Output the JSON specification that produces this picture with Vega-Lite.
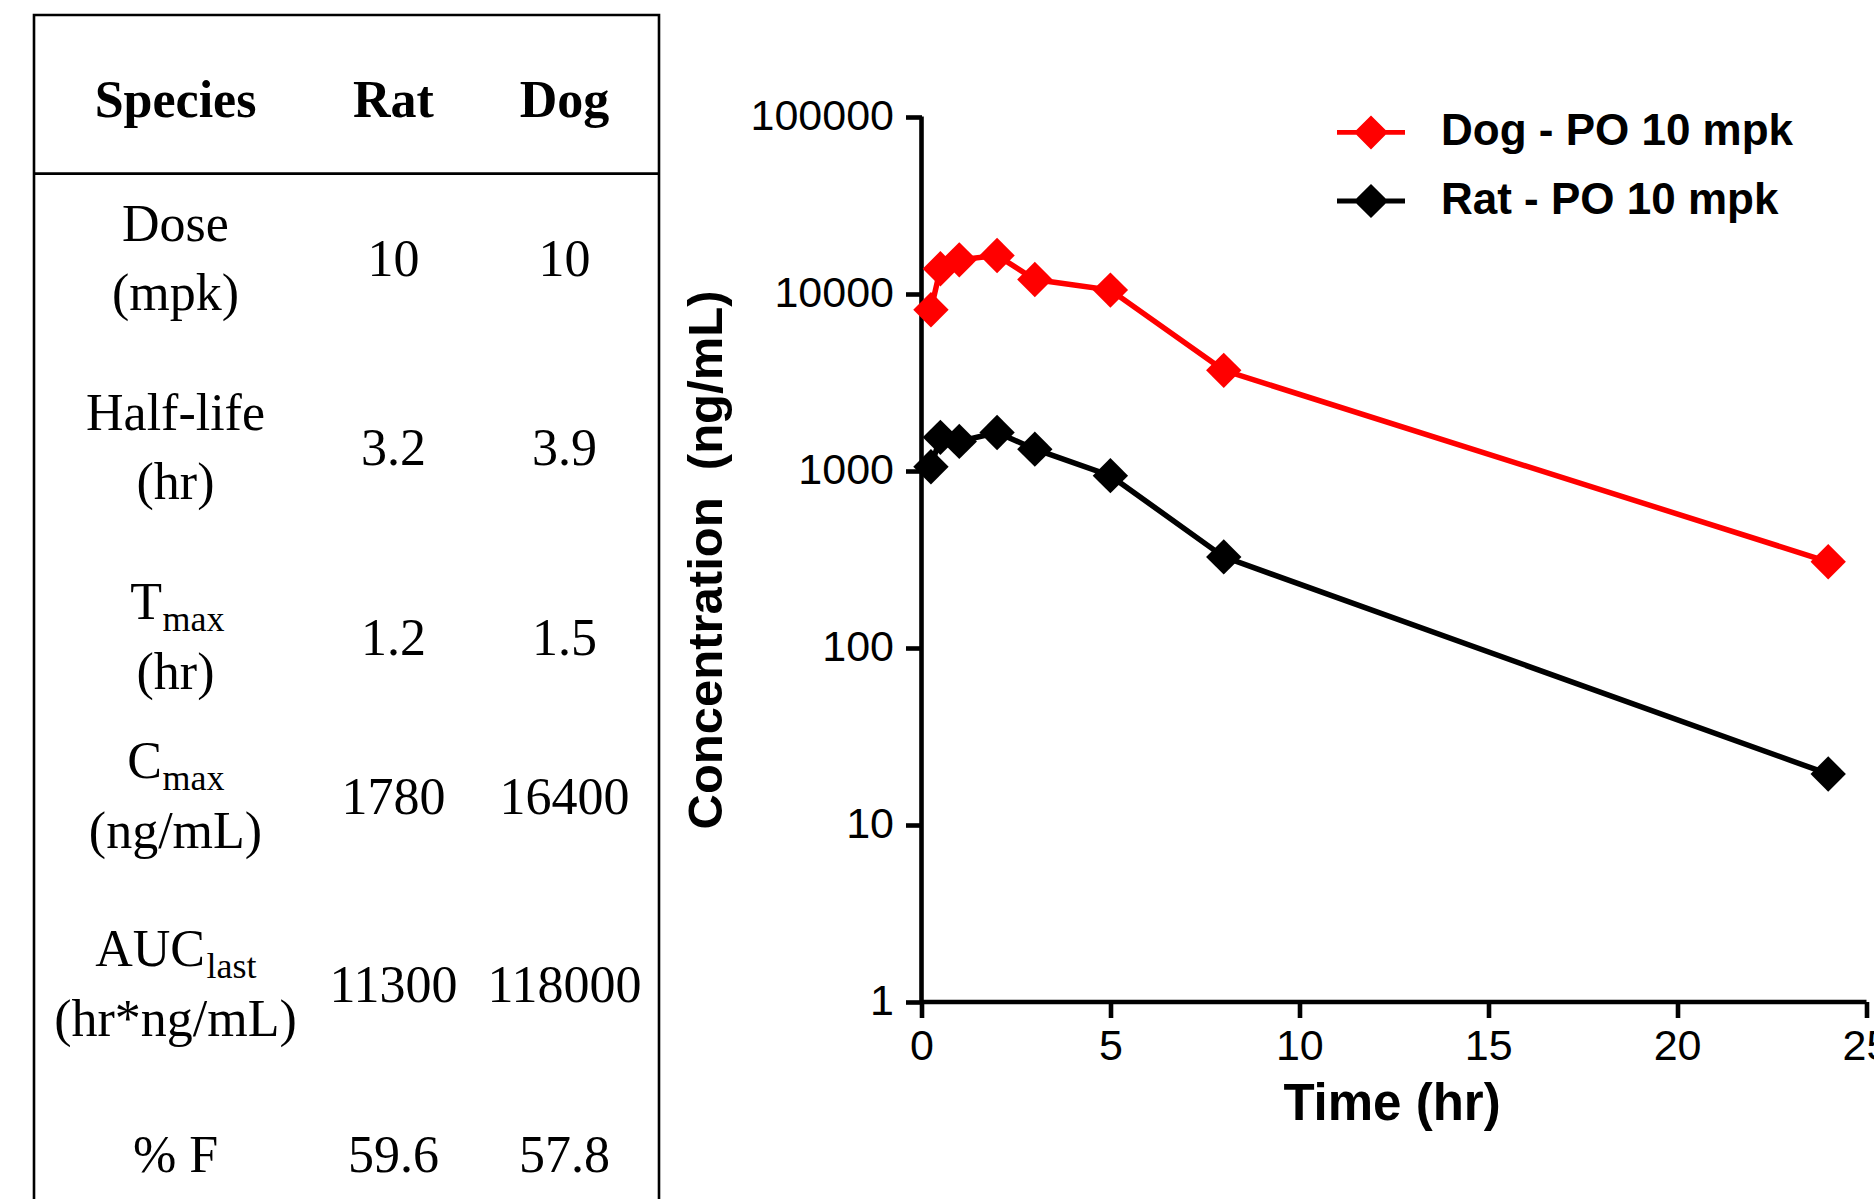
{
  "$schema": "https://vega.github.io/schema/vega-lite/v6.json",
  "background": "white",
  "padding": {"left": 31, "top": 13, "right": 0, "bottom": 0},
  "autosize": {"type": "pad"},
  "config": {"view": {"stroke": null}, "axis": {"grid": false}},
  "datasets": {
    "header": [
      {"row": 0, "col": 0, "text": "Species"},
      {"row": 0, "col": 1, "text": "Rat"},
      {"row": 0, "col": 2, "text": "Dog"}
    ],
    "cells": [
      {"row": 1, "col": 1, "text": "10"}, {"row": 1, "col": 2, "text": "10"},
      {"row": 2, "col": 1, "text": "3.2"}, {"row": 2, "col": 2, "text": "3.9"},
      {"row": 3, "col": 1, "text": "1.2"}, {"row": 3, "col": 2, "text": "1.5"},
      {"row": 4, "col": 1, "text": "1780"}, {"row": 4, "col": 2, "text": "16400"},
      {"row": 5, "col": 1, "text": "11300"}, {"row": 5, "col": 2, "text": "118000"},
      {"row": 6, "col": 1, "text": "59.6"}, {"row": 6, "col": 2, "text": "57.8"}
    ],
    "labels": [
      {"row": 1, "col": 0, "l1": "Dose", "l2": "(mpk)"},
      {"row": 2, "col": 0, "l1": "Half-life", "l2": "(hr)"},
      {"row": 3, "col": 0, "base": "T", "sub": "max", "l2": "(hr)"},
      {"row": 4, "col": 0, "base": "C", "sub": "max", "l2": "(ng/mL)"},
      {"row": 5, "col": 0, "base": "AUC", "sub": "last", "l2": "(hr*ng/mL)"},
      {"row": 6, "col": 0, "l0": "% F"}
    ],
    "pk": [
      {"series": "Dog - PO 10 mpk", "time": 0.25, "conc": 8100},
      {"series": "Dog - PO 10 mpk", "time": 0.5, "conc": 13800},
      {"series": "Dog - PO 10 mpk", "time": 1, "conc": 15500},
      {"series": "Dog - PO 10 mpk", "time": 2, "conc": 16400},
      {"series": "Dog - PO 10 mpk", "time": 3, "conc": 12000},
      {"series": "Dog - PO 10 mpk", "time": 5, "conc": 10450},
      {"series": "Dog - PO 10 mpk", "time": 8, "conc": 3680},
      {"series": "Dog - PO 10 mpk", "time": 24, "conc": 305},
      {"series": "Rat - PO 10 mpk", "time": 0.25, "conc": 1050},
      {"series": "Rat - PO 10 mpk", "time": 0.5, "conc": 1540},
      {"series": "Rat - PO 10 mpk", "time": 1, "conc": 1460},
      {"series": "Rat - PO 10 mpk", "time": 2, "conc": 1640},
      {"series": "Rat - PO 10 mpk", "time": 3, "conc": 1320},
      {"series": "Rat - PO 10 mpk", "time": 5, "conc": 935},
      {"series": "Rat - PO 10 mpk", "time": 8, "conc": 325},
      {"series": "Rat - PO 10 mpk", "time": 24, "conc": 19.3}
    ]
  },
  "bounds": "flush",
  "spacing": 262.5,
  "hconcat": [
    {
      "width": 625,
      "height": 1184,
      "view": {"stroke": "black", "strokeWidth": 2.6, "strokeDash": [1809, 625, 1300]},
      "layer": [
        {
          "data": {"name": "header"},
          "mark": {"type": "text", "font": "Liberation Serif", "fontSize": 52, "fontWeight": "bold", "baseline": "middle", "color": "black"},
          "encoding": {
            "x": {"field": "col", "type": "quantitative", "axis": null, "scale": {"domain": [0, 1, 2], "range": [141.5, 359.5, 530.5], "zero": false, "nice": false}},
            "y": {"field": "row", "type": "quantitative", "axis": null, "scale": {"domain": [0, 1, 2, 3, 4, 5, 6], "range": [85.5, 244.5, 434, 624, 783, 970.5, 1141], "zero": false, "nice": false}},
            "text": {"field": "text"}
          }
        },
        {
          "data": {"name": "cells"},
          "mark": {"type": "text", "font": "Liberation Serif", "fontSize": 52, "baseline": "middle", "color": "black"},
          "encoding": {
            "x": {"field": "col", "type": "quantitative"},
            "y": {"field": "row", "type": "quantitative"},
            "text": {"field": "text"}
          }
        },
        {
          "data": {"name": "labels"},
          "transform": [{"filter": "datum.l1"}],
          "mark": {"type": "text", "font": "Liberation Serif", "fontSize": 52, "baseline": "middle", "color": "black", "dy": -35},
          "encoding": {
            "x": {"field": "col", "type": "quantitative"},
            "y": {"field": "row", "type": "quantitative"},
            "text": {"field": "l1"}
          }
        },
        {
          "data": {"name": "labels"},
          "transform": [{"filter": "datum.l2"}],
          "mark": {"type": "text", "font": "Liberation Serif", "fontSize": 52, "baseline": "middle", "color": "black", "dy": 34},
          "encoding": {
            "x": {"field": "col", "type": "quantitative"},
            "y": {"field": "row", "type": "quantitative"},
            "text": {"field": "l2"}
          }
        },
        {
          "data": {"name": "labels"},
          "transform": [{"filter": "datum.l0"}],
          "mark": {"type": "text", "font": "Liberation Serif", "fontSize": 52, "baseline": "middle", "color": "black"},
          "encoding": {
            "x": {"field": "col", "type": "quantitative"},
            "y": {"field": "row", "type": "quantitative"},
            "text": {"field": "l0"}
          }
        },
        {
          "data": {"name": "labels"},
          "transform": [{"filter": "datum.row == 3 || datum.row == 4"}],
          "mark": {"type": "text", "font": "Liberation Serif", "fontSize": 52, "baseline": "alphabetic", "align": "right", "color": "black", "dx": -13.5, "dy": -20},
          "encoding": {
            "x": {"field": "col", "type": "quantitative"},
            "y": {"field": "row", "type": "quantitative"},
            "text": {"field": "base"}
          }
        },
        {
          "data": {"name": "labels"},
          "transform": [{"filter": "datum.row == 3 || datum.row == 4"}],
          "mark": {"type": "text", "font": "Liberation Serif", "fontSize": 36, "baseline": "alphabetic", "align": "left", "color": "black", "dx": -13, "dy": -8},
          "encoding": {
            "x": {"field": "col", "type": "quantitative"},
            "y": {"field": "row", "type": "quantitative"},
            "text": {"field": "sub"}
          }
        },
        {
          "data": {"name": "labels"},
          "transform": [{"filter": "datum.row == 5"}],
          "mark": {"type": "text", "font": "Liberation Serif", "fontSize": 52, "baseline": "alphabetic", "align": "right", "color": "black", "dx": 29.5, "dy": -20},
          "encoding": {
            "x": {"field": "col", "type": "quantitative"},
            "y": {"field": "row", "type": "quantitative"},
            "text": {"field": "base"}
          }
        },
        {
          "data": {"name": "labels"},
          "transform": [{"filter": "datum.row == 5"}],
          "mark": {"type": "text", "font": "Liberation Serif", "fontSize": 36, "baseline": "alphabetic", "align": "left", "color": "black", "dx": 31, "dy": -8},
          "encoding": {
            "x": {"field": "col", "type": "quantitative"},
            "y": {"field": "row", "type": "quantitative"},
            "text": {"field": "sub"}
          }
        },
        {
          "data": {"values": [{}]},
          "mark": {"type": "rule", "color": "black", "strokeWidth": 2.6},
          "encoding": {"y": {"datum": 0.46, "type": "quantitative"}}
        }
      ]
    },
    {
      "width": 944.5,
      "height": 986.5,
      "data": {"name": "pk"},
      "layer": [
        {
          "data": {"values": [{}]},
          "mark": {"type": "rule", "color": "black", "strokeWidth": 4.6},
          "encoding": {
            "x": {"datum": 0, "type": "quantitative"},
            "y": {"datum": 1, "type": "quantitative"},
            "y2": {"datum": 100000}
          }
        },
        {
          "mark": {"type": "point", "shape": "diamond", "filled": true, "size": 1250, "opacity": 1},
          "encoding": {
            "x": {
              "field": "time", "type": "quantitative",
              "scale": {"domain": [0, 25], "nice": false, "zero": false},
              "axis": {
                "values": [0, 5, 10, 15, 20, 25], "title": "Time (hr)",
                "titleFont": "Liberation Sans", "titleFontSize": 51, "titleFontWeight": "bold", "titleColor": "black",
                "titleX": 470, "titleY": 78, "titleBaseline": "top",
                "labelFont": "Liberation Sans", "labelFontSize": 43, "labelColor": "black", "labelPadding": 8,
                "labelFlush": false, "labelOverlap": false, "labelBound": false,
                "tickSize": 16, "tickWidth": 4.6, "tickColor": "black",
                "domainColor": "black", "domainWidth": 4.6, "grid": false
              }
            },
            "y": {
              "field": "conc", "type": "quantitative",
              "scale": {"type": "log", "domain": [1, 374500], "nice": false, "zero": false},
              "axis": {
                "values": [1, 10, 100, 1000, 10000, 100000], "format": "d",
                "title": "Concentration\u00a0\u00a0(ng/mL)",
                "titleFont": "Liberation Sans", "titleFontSize": 49, "titleFontWeight": "bold", "titleColor": "black",
                "titleX": -190, "titleY": 544.5, "titleAngle": 270, "titleBaseline": "bottom", "titleAlign": "center",
                "labelFont": "Liberation Sans", "labelFontSize": 43, "labelColor": "black", "labelPadding": 12,
                "labelFlush": false, "labelOverlap": false, "labelBound": false,
                "tickSize": 16, "tickWidth": 4.6, "tickColor": "black",
                "domain": false, "grid": false
              }
            },
            "color": {
              "field": "series", "type": "nominal",
              "scale": {"domain": ["Dog - PO 10 mpk", "Rat - PO 10 mpk"], "range": ["#ff0000", "#000000"]},
              "legend": {
                "orient": "none", "legendX": 1303, "legendY": 83.4, "direction": "vertical",
                "title": null, "padding": 0,
                "labelFont": "Liberation Sans", "labelFontSize": 44, "labelFontWeight": "bold", "labelColor": "black",
                "labelOffset": 36, "labelLimit": 800,
                "symbolType": "M-1,-0.07L-0.43,-0.07L0,-0.5L0.43,-0.07L1,-0.07L1,0.07L0.43,0.07L0,0.5L-0.43,0.07L-1,0.07Z",
                "symbolSize": 4624, "symbolStrokeWidth": 0, "symbolOpacity": 1,
                "rowPadding": 12.6
              }
            }
          }
        },
        {
          "mark": {"type": "line", "strokeWidth": 5.5},
          "encoding": {
            "x": {"field": "time", "type": "quantitative"},
            "y": {"field": "conc", "type": "quantitative"},
            "color": {"field": "series", "type": "nominal", "legend": null}
          }
        }
      ]
    }
  ]
}
